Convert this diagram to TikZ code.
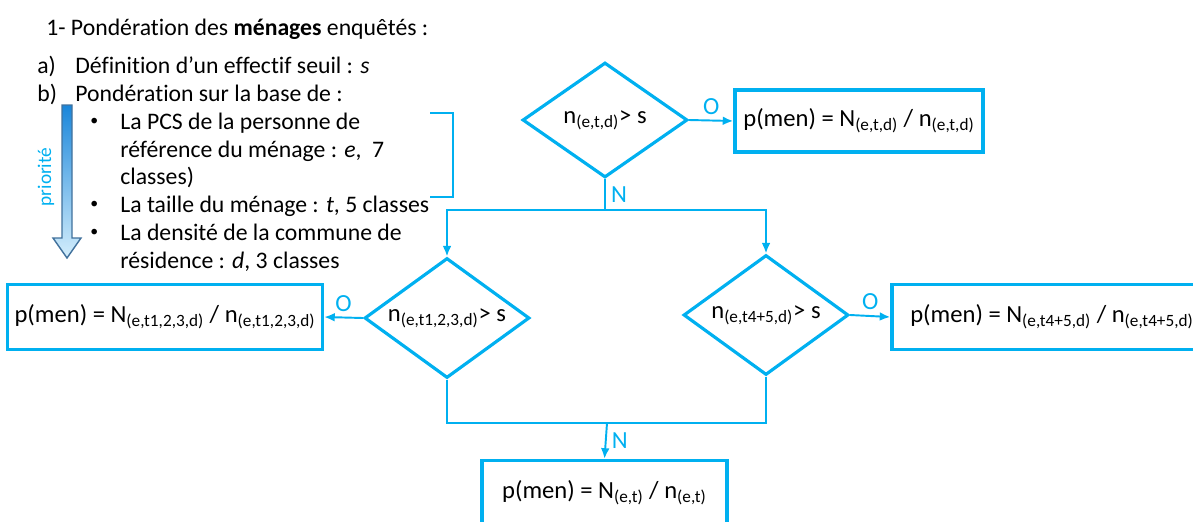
\documentclass[tikz,border=0pt]{standalone}
\usepackage{fontspec}
\setmainfont[Ligatures=NoCommon]{Carlito}
\usepackage{tikz}
\usetikzlibrary{shapes.geometric,arrows.meta,positioning,calc}
\definecolor{flowblue}{HTML}{00B0F0}
\definecolor{prioTop}{HTML}{1A86DA}
\definecolor{prioBottom}{HTML}{D4EEFC}
\definecolor{prioEdge}{HTML}{41719C}
\newcommand{\lowsub}[1]{\textsubscript{#1}}

\begin{document}
\begin{tikzpicture}[x=0.02cm,y=-0.02cm,
    font=\fontsize{14}{16}\selectfont,
    test/.style={diamond,draw=flowblue,line width=1.8pt,aspect=1.4,
                 inner sep=0pt,minimum width=3.3cm,minimum height=2.4cm},
    result/.style={rectangle,draw=flowblue,line width=2pt,
                   minimum height=1.3cm,inner sep=4pt},
    link/.style={draw=flowblue,line width=1.1pt},
    arr/.style={link,-{Latex[length=6pt,width=5pt]}},
    answer/.style={text=flowblue,inner sep=3pt},
    textline/.style={anchor=base west,inner sep=0pt,font=\fontsize{13.5}{16}\selectfont},
    bulletdot/.style={anchor=base west,inner sep=0pt,font=\fontsize{9}{10}\selectfont}]
  \useasboundingbox (0,0) rectangle (1193,521);
  \clip (0,0) rectangle (1193,521);
  % Text on the left
  \node[textline] (title) at (46,35) {1- Pondération des \textbf{ménages} enquêtés :};
  \node[textline] (itema) at (37,73) {a)};
  \node[textline] (texta) at (75,73) {Définition d’un effectif seuil : \textit{s}};
  \node[textline] (itemb) at (37,101) {b)};
  \node[textline] (textb) at (75,101) {Pondération sur la base de :};
  \node[bulletdot] (dot1) at (90,125) {•};
  \node[textline] (pcs1) at (120,129) {La PCS de la personne de};
  \node[textline] (pcs2) at (120,157) {référence du ménage : \textit{e},\ \ 7};
  \node[textline] (pcs3) at (120,184) {classes)};
  \node[bulletdot] (dot2) at (90,208) {•};
  \node[textline] (size) at (120,212) {La taille du ménage : \textit{t}, 5 classes};
  \node[bulletdot] (dot3) at (90,236) {•};
  \node[textline] (dens1) at (120,240) {La densité de la commune de};
  \node[textline] (dens2) at (120,268) {résidence : \textit{d}, 3 classes};
  % Priority arrow
  \shadedraw[top color=prioTop,bottom color=prioBottom,draw=prioEdge,line width=0.8pt]
    (62,105) -- (72,105) -- (72,238) -- (81,238) -- (67,258) -- (53,238)
    -- (62,238) -- cycle;
  \node[rotate=90,text=flowblue,font=\fontsize{11}{12}\selectfont] (prio) at (46,177) {priorité};
  % Bracket
  \draw[flowblue,line width=0.8pt] (430,113) -| (453,197) -- (430,197);
  % Tests
  \node[test,minimum height=2.3cm] (d1) at (605,120) {n\lowsub{(e,t,d)}> s};
  \node[test] (d2) at (447,318) {n\lowsub{(e,t1,2,3,d)}> s};
  \node[test] (d3) at (766,315) {n\lowsub{(e,t4+5,d)}> s};
  % Results
  \node[result,minimum width=4.96cm,minimum height=1.24cm] (b1) at (859,121)
    {p(men) = N\lowsub{(e,t,d)} / n\lowsub{(e,t,d)}};
  \node[result,minimum width=6.2cm] (b2) at (165,317)
    {p(men) = N\lowsub{(e,t1,2,3,d)} / n\lowsub{(e,t1,2,3,d)}};
  \node[result,minimum width=6.4cm] (b3) at (1052,317)
    {p(men) = N\lowsub{(e,t4+5,d)} / n\lowsub{(e,t4+5,d)}};
  \node[result,minimum width=4.9cm] (b4) at (604.5,493)
    {p(men) = N\lowsub{(e,t)} / n\lowsub{(e,t)}};
  % Connectors
  \coordinate (split) at (605,210);
  \coordinate (join) at (607,423);
  \draw[arr] (d1.east) -- node[answer,above] {O} (b1.west);
  \draw[link] (d1.south) -- node[answer,right] {N} (split);
  \draw[arr] (split) -| (d2.north);
  \draw[arr] (split) -| (d3.north);
  \draw[arr] (d2.west) -- node[answer,above] {O} (b2.east);
  \draw[arr] (d3.east) -- node[answer,above] {O} (b3.west);
  \draw[link] (d2.south) |- (join);
  \draw[link] (d3.south) |- (join);
  \draw[arr] (join) -- node[answer,right] {N} (b4.north);
\end{tikzpicture}
\end{document}
